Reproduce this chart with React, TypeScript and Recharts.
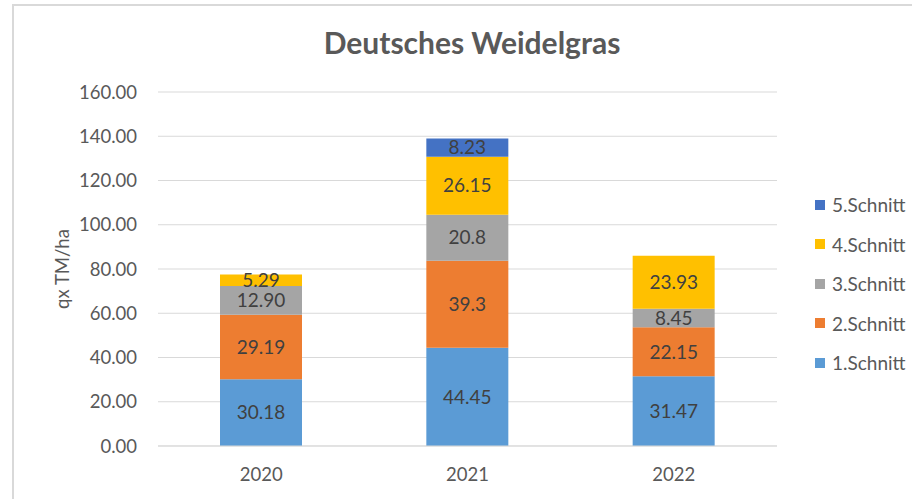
import { BarChart, Bar, XAxis, YAxis, CartesianGrid, LabelList, Label } from "recharts";

const YEARS = ["2020", "2021", "2022"];
const SCHNITT1 = [30.18, 44.45, 31.47];
const SCHNITT2 = [29.19, 39.3, 22.15];
const SCHNITT3 = [12.9, 20.8, 8.45];
const SCHNITT4 = [5.29, 26.15, 23.93];
const SCHNITT5 = [null, 8.23, null];
// labels exactly as printed in the source sheet
const LABELS1 = ["30.18", "44.45", "31.47"];
const LABELS2 = ["29.19", "39.3", "22.15"];
const LABELS3 = ["12.90", "20.8", "8.45"];
const LABELS4 = ["5.29", "26.15", "23.93"];
const LABELS5 = [undefined, "8.23", undefined];
const Y_TICKS = [0, 20, 40, 60, 80, 100, 120, 140, 160];

const SERIES = [
  { key: "s1", name: "1.Schnitt", color: "#5B9BD5" },
  { key: "s2", name: "2.Schnitt", color: "#ED7D31" },
  { key: "s3", name: "3.Schnitt", color: "#A5A5A5" },
  { key: "s4", name: "4.Schnitt", color: "#FFC000" },
  { key: "s5", name: "5.Schnitt", color: "#4472C4" },
];

const DATA = YEARS.map((year, i) => ({
  year,
  s1: SCHNITT1[i], s2: SCHNITT2[i], s3: SCHNITT3[i], s4: SCHNITT4[i], s5: SCHNITT5[i],
  l1: LABELS1[i], l2: LABELS2[i], l3: LABELS3[i], l4: LABELS4[i], l5: LABELS5[i],
}));

const FONT = "Lato, 'Open Sans', sans-serif";
const TICK = { fill: "#595959", fontSize: 18.5, fontFamily: FONT };

export default function App() {
  return (
    <div style={{ position: "absolute", left: 0, top: 0, width: 912, height: 499, background: "#fff", overflow: "hidden" }}>
      <div style={{ position: "absolute", left: 12, top: 4, width: 920, height: 520, borderLeft: "2px solid #D9D9D9", borderTop: "2px solid #D9D9D9" }} />
      <div style={{ position: "absolute", left: 0, width: 944, top: 24, textAlign: "center", fontFamily: FONT, fontWeight: 700, fontSize: 30, color: "#595959" }}>
        Deutsches Weidelgras
      </div>
      <BarChart width={912} height={499} data={DATA} margin={{ top: 92, right: 135, bottom: 23, left: 58 }}
        style={{ position: "absolute", left: 0, top: 0 }}>
        <CartesianGrid stroke="#D9D9D9" vertical={false} />
        <XAxis dataKey="year" height={30} axisLine={{ stroke: "#D9D9D9" }} tickLine={false} tickMargin={16} tick={TICK} />
        <YAxis width={100} domain={[0, 160]} ticks={Y_TICKS} axisLine={false} tickLine={false} tickMargin={15}
          tickFormatter={(v: number) => v.toFixed(2)} tick={TICK}>
          <Label value="qx TM/ha" angle={-90} position="insideLeft" offset={4}
            style={{ fill: "#595959", fontSize: 18.5, fontFamily: FONT, textAnchor: "middle" }} />
        </YAxis>
        {SERIES.map((s, i) => (
          <Bar key={s.key} dataKey={s.key} name={s.name} stackId="a" fill={s.color} barSize={82} isAnimationActive={false}>
            <LabelList dataKey={`l${i + 1}`} position="center" fill="#404040" fontSize={19} fontFamily={FONT} />
          </Bar>
        ))}
      </BarChart>
      <div style={{ position: "absolute", left: 815, top: 185, fontFamily: FONT, fontSize: 19, color: "#595959" }}>
        {[...SERIES].reverse().map((s) => (
          <div key={s.key} style={{ display: "flex", alignItems: "center", height: 39.5 }}>
            <span style={{ width: 10, height: 10, background: s.color, marginRight: 7 }} />
            {s.name}
          </div>
        ))}
      </div>
    </div>
  );
}
